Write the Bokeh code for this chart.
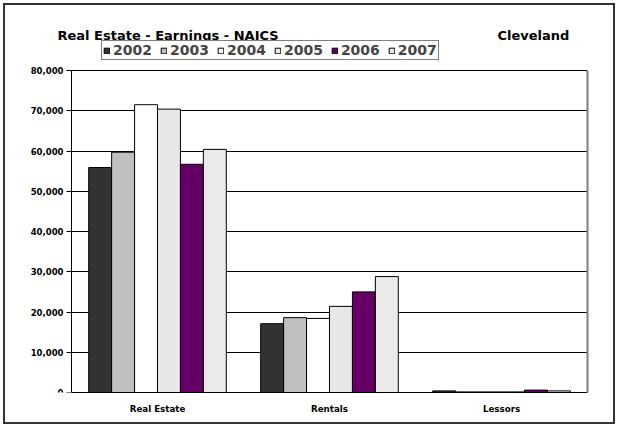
from bokeh.plotting import figure
from bokeh.models import (ColumnDataSource, Range1d, NumeralTickFormatter,
                          Legend, LegendItem, Label, FixedTicker, LinearAxis)
from bokeh.transform import dodge
from bokeh.embed import file_html
from bokeh.resources import INLINE

categories = ["Real Estate", "Rentals", "Lessors"]
years = ["2002", "2003", "2004", "2005", "2006", "2007"]
v2002 = [55900, 17100, 400]
v2003 = [59700, 18600, 150]
v2004 = [71500, 18400, 150]
v2005 = [70400, 21400, 150]
v2006 = [56700, 25000, 600]
v2007 = [60400, 28800, 400]
series = [v2002, v2003, v2004, v2005, v2006, v2007]
colors = ["#333333", "#C0C0C0", "#FFFFFF", "#E8E8E8", "#660066", "#EAEAEA"]
y_ticks = [0, 10000, 20000, 30000, 40000, 50000, 60000, 70000, 80000]
y_max = 80000
title_text = "Real Estate - Earnings - NAICS"
city_text = "Cleveland"

FONT = "DejaVu Sans"

# layout (pixels)
W, H = 618, 427
FRAME_L, FRAME_R, FRAME_T, FRAME_B = 20, 587, 10, 392
AXIS_X = 71          # pixel column of the value axis
TOP80 = 70           # pixel row of the top tick
n = len(categories)
cat_px = (FRAME_R - AXIS_X) / n
x_start = -(AXIS_X - FRAME_L) / cat_px
y_end = y_max * (FRAME_B - FRAME_T) / (FRAME_B - TOP80)

centers = [i + 0.5 for i in range(n)]
data = {"xc": centers}
for y, s in zip(years, series):
    data["y" + y] = s
source = ColumnDataSource(data=data)

p = figure(width=W, height=H,
           x_range=Range1d(x_start, n), y_range=Range1d(0, y_end),
           output_backend="svg", toolbar_location=None,
           min_border_left=FRAME_L, min_border_right=W - FRAME_R,
           min_border_top=FRAME_T, min_border_bottom=H - FRAME_B)
p.styles = {"box-shadow": "inset 0 0 0 3px #ffffff, inset 0 0 0 5px #333333",
            "background-color": "#ffffff"}

group = 0.8
bw = group / len(years)
renderers = []
for i, (y, c) in enumerate(zip(years, colors)):
    off = (i - (len(years) - 1) / 2) * bw
    r = p.vbar(x=dodge("xc", off), top="y" + y, width=bw,
               source=source, fill_color=c, line_color="#000000", line_width=1)
    renderers.append(r)

legend = Legend(items=[LegendItem(label=y, renderers=[r]) for y, r in zip(years, renderers)],
                orientation="horizontal", location=(101 - FRAME_L, FRAME_B - 60),
                label_text_font=FONT, label_text_font_style="bold", label_text_font_size="14px",
                label_height=13, glyph_width=7, glyph_height=7, label_standoff=3, spacing=8,
                padding=1, margin=0, border_line_color="#000000", border_line_width=1,
                background_fill_color="#FFFFFF", background_fill_alpha=1)
p.add_layout(legend, "center")

p.add_layout(Label(x=57 - FRAME_L, y=FRAME_B - 34.6, x_units="screen", y_units="screen",
                   text=title_text, text_font=FONT, text_font_style="bold",
                   text_font_size="13px", text_baseline="alphabetic", text_color="#000000"))
p.add_layout(Label(x=497 - FRAME_L, y=FRAME_B - 34.6, x_units="screen", y_units="screen",
                   text=city_text, text_font=FONT, text_font_style="bold",
                   text_font_size="13px", text_baseline="alphabetic", text_color="#000000"))

yax = p.yaxis[0]
yax.ticker = FixedTicker(ticks=y_ticks)
yax.bounds = (0, y_max)
yax.fixed_location = 0
yax.formatter = NumeralTickFormatter(format="0,0")
yax.major_label_text_font = FONT
yax.major_label_text_font_style = "bold"
yax.major_label_text_font_size = "8.5px"
yax.major_label_text_color = "#000000"
yax.axis_line_color = "#000000"
yax.major_tick_line_color = "#000000"
yax.major_tick_out = 5
yax.major_tick_in = 0
yax.minor_tick_line_color = None
yax.major_label_standoff = 3

rax = LinearAxis(ticker=FixedTicker(ticks=[]), bounds=(0, y_max),
                 axis_line_color="#808080", axis_line_width=2,
                 major_tick_line_color=None, minor_tick_line_color=None)
p.add_layout(rax, "right")

xax = p.xaxis[0]
xax.ticker = FixedTicker(ticks=centers)
xax.major_label_overrides = {c: name for c, name in zip(centers, categories)}
xax.bounds = (0, n)
xax.major_label_text_font = FONT
xax.major_label_text_font_style = "bold"
xax.major_label_text_font_size = "8.7px"
xax.major_label_text_color = "#000000"
xax.axis_line_color = "#000000"
xax.major_tick_line_color = None
xax.major_tick_out = 0
xax.major_tick_in = 0
xax.minor_tick_line_color = None
xax.major_label_standoff = 11

p.xgrid.grid_line_color = None
p.ygrid.grid_line_color = "#000000"
p.ygrid.grid_line_alpha = 1
p.ygrid.cross_bounds = (0, n)
p.outline_line_color = None
p.background_fill_color = "#FFFFFF"
p.border_fill_color = None

open("out.html", "w").write(file_html(p, INLINE))
